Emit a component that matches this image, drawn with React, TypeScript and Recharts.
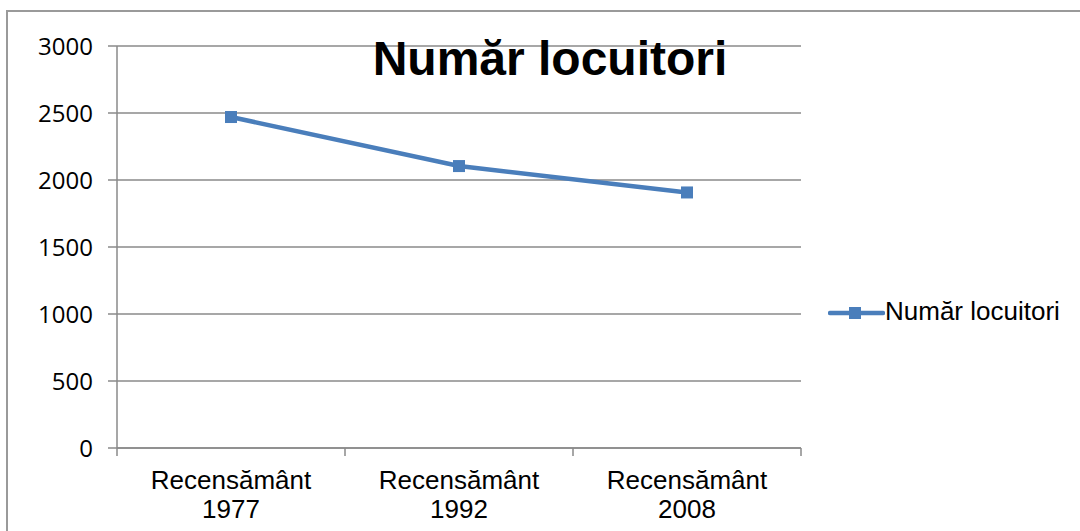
import React from 'react';
import { LineChart, Line, XAxis, YAxis, CartesianGrid, Legend } from 'recharts';

const categories = ['Recensământ 1977', 'Recensământ 1992', 'Recensământ 2008'];
const locuitori = [2470, 2104, 1907];
const yTicks = [0, 500, 1000, 1500, 2000, 2500, 3000];
const boundaryTicks = [0, 1, 2, 3];
const seriesName = 'Număr locuitori';

const data = categories.map((label, i) => ({ label, value: locuitori[i] }));

const BLUE = '#4a7ebb';
const GRAY = '#8a8a8a';
const ARIAL = "'Liberation Sans', Arial, sans-serif";

const SquareDot = (props: any) => {
  const { cx, cy } = props;
  if (cx == null || cy == null) return null;
  return <rect x={cx - 6} y={cy - 6} width={12} height={12} fill={BLUE} />;
};

const CategoryTick = (props: any) => {
  const { x, y, payload } = props;
  const words = String(payload.value).split(' ');
  return (
    <text x={x} y={y} textAnchor="middle" fill="#000" fontSize={26} fontFamily={ARIAL}>
      <tspan x={x} dy={25}>{words[0]}</tspan>
      <tspan x={x} dy={29}>{words[1]}</tspan>
    </text>
  );
};

const LegendContent = () => (
  <div style={{ display: 'flex', alignItems: 'flex-start', height: 32 }}>
    <svg width={57} height={32}>
      <line x1={2} y1={18} x2={55} y2={18} stroke={BLUE} strokeWidth={4.5} strokeLinecap="round" />
      <rect x={21} y={12} width={12} height={12} fill={BLUE} />
    </svg>
    <span style={{ fontFamily: ARIAL, fontSize: 26, lineHeight: '32px', color: '#000' }}>{seriesName}</span>
  </div>
);

export default function App() {
  return (
    <div style={{ position: 'relative', width: 1080, height: 531, overflow: 'hidden', background: '#fff' }}>
      <style>{'body{margin:0;overflow:hidden}'}</style>
      <div
        style={{
          position: 'absolute',
          left: 6,
          top: 10,
          right: -5,
          bottom: -5,
          borderTop: '2px solid #9a9a9a',
          borderLeft: '2px solid #9a9a9a',
        }}
      />
      <LineChart width={1080} height={531} data={data} margin={{ top: 46, right: 279, left: 57, bottom: 15 }}>
        <CartesianGrid horizontal vertical={false} stroke={GRAY} strokeWidth={1.5} yAxisId="y" xAxisId="c" />
        <XAxis
          xAxisId="b"
          type="number"
          dataKey={() => 0}
          domain={[0, 3]}
          allowDataOverflow
          ticks={boundaryTicks}
          interval={0}
          tickFormatter={() => ''}
          tickSize={8}
          height={8}
          axisLine={{ stroke: GRAY, strokeWidth: 1.5 }}
          tickLine={{ stroke: GRAY, strokeWidth: 1.5 }}
        />
        <XAxis
          xAxisId="c"
          dataKey="label"
          type="category"
          scale="band"
          axisLine={false}
          tickLine={false}
          height={60}
          interval={0}
          tick={<CategoryTick />}
        />
        <YAxis
          yAxisId="y"
          domain={[0, 3000]}
          ticks={yTicks}
          width={60}
          tickSize={9}
          tickMargin={15}
          interval={0}
          axisLine={{ stroke: GRAY, strokeWidth: 1.5 }}
          tickLine={{ stroke: GRAY, strokeWidth: 1.5 }}
          tick={{ fill: '#000', fontSize: 24, fontFamily: "'Open Sans', sans-serif" }}
        />
        <Legend
          layout="vertical"
          align="center"
          verticalAlign="middle"
          content={<LegendContent />}
          wrapperStyle={{ left: 828, top: 295, width: 250, height: 32 }}
        />
        <Line
          xAxisId="c"
          yAxisId="y"
          type="linear"
          dataKey="value"
          name={seriesName}
          stroke={BLUE}
          strokeWidth={4.5}
          dot={<SquareDot />}
          activeDot={false}
          isAnimationActive={false}
        />
      </LineChart>
      <div
        style={{
          position: 'absolute',
          left: 300,
          top: 35,
          width: 500,
          textAlign: 'center',
          fontFamily: ARIAL,
          fontWeight: 'bold',
          fontSize: 48,
          lineHeight: '48px',
          color: '#000',
        }}
      >
        {seriesName}
      </div>
    </div>
  );
}
